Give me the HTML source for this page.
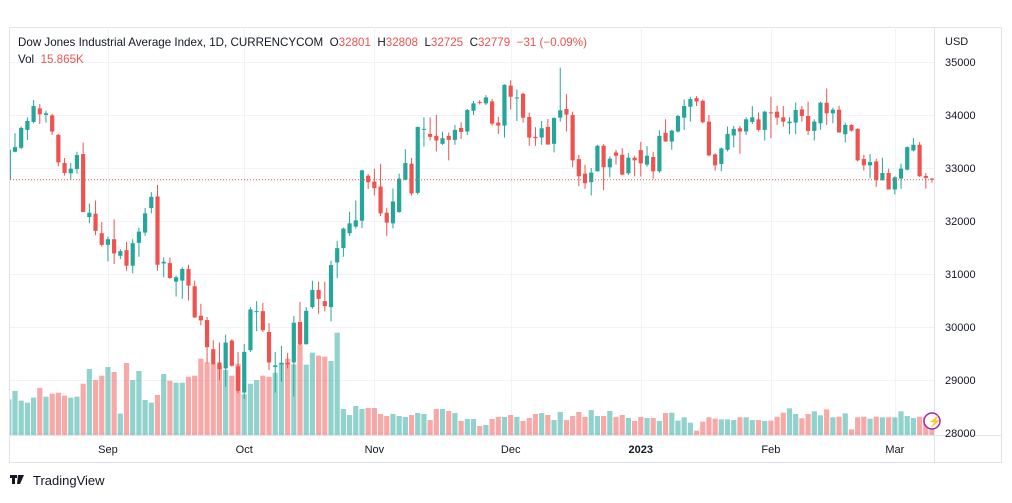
<!DOCTYPE html>
<html><head><meta charset="utf-8"><style>
body{margin:0;background:#fff;font-family:"Liberation Sans",sans-serif;}
svg text{font-family:"Liberation Sans",sans-serif;}
</style></head><body>
<svg id="chart" width="1012" height="498" viewBox="0 0 1012 498">
<defs><clipPath id="plotclip"><rect x="10" y="27" width="924" height="408"/></clipPath></defs>
<rect x="9.5" y="27.5" width="992" height="435" fill="#fff" stroke="#e0e3eb"/>
<g id="grid"></g>
<g id="vols" clip-path="url(#plotclip)"></g>
<g id="candles" clip-path="url(#plotclip)"></g>
<line x1="934.5" y1="27" x2="934.5" y2="462" stroke="#e0e3eb"/>
<line x1="10" y1="435.5" x2="1002" y2="435.5" stroke="#e0e3eb"/>
<g id="yticks" font-size="11" fill="#131722"></g>
<text x="945" y="45" font-size="11" fill="#131722">USD</text>
<g id="xticks" font-size="11" fill="#131722"></g>
<text x="18" y="46" font-size="11.6" fill="#131722" xml:space="preserve">Dow Jones Industrial Average Index, 1D, CURRENCYCOM  O<tspan fill="#ef5350">32801</tspan>  H<tspan fill="#ef5350">32808</tspan>  L<tspan fill="#ef5350">32725</tspan>  C<tspan fill="#ef5350">32779</tspan>  <tspan fill="#ef5350">−31 (−0.09%)</tspan></text>
<text x="18" y="63" font-size="11.6" fill="#131722" xml:space="preserve">Vol  <tspan fill="#ef5350">15.865K</tspan></text>
<g><circle cx="932" cy="421" r="8" fill="#fff" stroke="#9c27b0" stroke-width="1.5"/><text x="928" y="425" font-size="11" fill="#9c27b0">⚡</text></g>
<g><rect x="10" y="475" width="7" height="3" fill="#131722"/><rect x="12" y="475" width="3" height="9" fill="#131722"/><polygon points="18,475 24,475 20,484 17,484" fill="#131722"/><text x="33" y="485" font-size="13" fill="#131722">TradingView</text></g>
</svg>
<script>
const opens=[32781,33306,33381,33719,33869,34125,34000,33994,33625,33094,32900,32981,33263,32075,32138,31769,31550,31656,31344,31450,31156,31588,31781,32244,32463,31200,31206,30856,30875,31094,30769,30213,30131,29581,29331,29219,29744,29256,28763,29563,30288,30300,29906,29244,29294,29325,29331,30094,29675,30375,30700,30488,30375,31219,31488,31769,31894,32006,32856,32744,32650,32156,31956,32169,32781,33081,32531,33725,33644,33606,33456,33606,33531,33756,33688,34081,34244,34219,34256,33856,33800,34556,34319,34400,33963,33588,33575,33775,33456,33950,34113,34000,33169,32894,32731,32938,33419,33013,33294,33250,32900,33194,33338,33063,33206,32938,33663,33500,33688,33950,34156,34319,34269,33875,33256,33075,33344,33613,33750,33688,33869,33919,33719,34050,34063,33956,33844,33856,34106,33981,33700,33844,34231,34031,34100,33638,33813,33738,33169,33050,33125,32769,32906,32594,32800,32969,33331,33438,32850,32801];
const highs=[33344,33656,33781,33956,34281,34206,34081,34019,33644,33188,33094,33306,33481,32331,32388,31981,31706,32031,31469,31606,31656,31875,32244,32544,32681,31313,31313,30969,31125,31175,30875,30438,30188,29750,29706,29856,29769,29531,29681,30375,30488,30456,30075,29531,29644,29513,30206,30469,30375,30875,30856,30856,31250,31625,31875,32175,32388,32969,32888,32988,33081,32250,32613,32894,33356,33188,33781,33956,33956,34000,33688,33669,33813,33863,34113,34263,34281,34375,34300,33969,34581,34656,34481,34419,34044,33769,33888,33925,33956,34894,34394,34063,33250,33063,33000,33438,33450,33219,33344,33375,33281,33231,33494,33413,33306,33713,33919,33719,34000,34294,34344,34356,34294,34000,33281,33388,33781,33794,33794,33956,34169,34050,34081,34344,34175,34169,33956,34238,34169,34250,33919,34250,34500,34138,34175,33856,33825,33750,33250,33263,33175,33194,32988,32844,33081,33406,33563,33488,32906,32808];
const lows=[32781,33294,33356,33531,33844,33831,33856,33625,33031,32856,32781,32894,32169,31956,31731,31519,31238,31188,31281,31063,31013,31325,31719,32144,31063,30938,30906,30575,30531,30500,30169,30031,29313,29281,29000,28875,29250,28750,28644,29531,29919,29906,29188,28763,28969,29219,28688,29656,29669,30344,30250,30294,30106,30919,31325,31719,31856,31863,32606,32481,32094,31719,31863,32156,32769,32481,32500,33406,33519,33313,33438,33144,33438,33550,33625,34000,34200,34188,33800,33644,33575,34106,33888,33856,33419,33419,33438,33438,33294,33875,33688,33013,32656,32606,32481,32931,32581,32825,33063,32863,32869,32844,32838,33025,32800,32906,33494,33344,33669,33719,33875,34169,33844,33219,32950,32938,33313,33388,33269,33625,33831,33688,33519,33563,33813,33781,33638,33638,33875,33625,33519,33719,33813,33844,33669,33481,33688,33125,32950,32806,32644,32763,32594,32500,32606,32956,33313,32831,32613,32725];
const closes=[33344,33394,33756,33888,34169,34013,34031,33688,33106,32906,32988,33244,32169,32156,31813,31550,31656,31388,31431,31156,31581,31800,32144,32456,31175,31231,30925,30938,31094,30781,30181,30125,29619,29300,29206,29706,29269,28794,29531,30331,30300,29938,29331,29275,29325,29294,30081,29669,30306,30700,30531,30394,31169,31488,31856,31956,32013,32956,32731,32619,32144,31969,32369,32800,33094,32519,33775,33738,33588,33519,33563,33531,33719,33681,34094,34219,34231,34331,33838,33800,34569,34344,34331,33950,33575,33563,33750,33444,33944,34088,34006,33144,32844,32713,32913,33419,33013,33175,33231,32875,33194,33144,33088,33231,32938,33606,33500,33706,33981,34169,34300,34256,33863,33238,33050,33369,33644,33738,33688,33919,33956,33719,34063,34031,33950,33875,33875,34094,33981,33700,33875,34231,34031,34100,33669,33813,33706,33144,33050,33113,32769,32906,32594,32825,32988,33394,33438,32844,32813,32779];
const volumes=[31.0,38.3,29.9,28.1,32.5,40.9,33.3,35.9,36.8,34.2,32.5,33.3,44.6,57.4,47.8,51.6,59.1,54.8,18.6,62.6,47.8,55.7,30.4,28.1,34.8,53.0,47.2,45.5,45.5,50.7,51.6,66.4,63.2,61.7,60.6,56.5,51.6,62.0,35.4,44.6,47.8,51.6,50.7,54.2,62.3,66.4,61.4,78.3,61.2,71.6,69.0,68.1,64.3,89.0,22.6,17.4,25.2,22.6,23.5,23.5,18.3,16.5,18.3,16.5,15.7,17.4,19.1,18.3,13.0,22.6,22.6,20.9,19.1,12.2,13.9,13.9,7.8,8.7,13.9,15.7,15.7,17.4,15.7,12.2,14.8,18.3,19.1,17.4,13.0,20.0,13.0,16.5,20.0,15.7,21.7,16.5,16.5,20.9,15.7,17.4,14.8,12.2,15.7,14.8,14.8,12.2,19.1,19.4,12.5,15.4,10.7,3.8,11.6,15.4,14.2,13.6,13.6,13.0,15.4,15.4,13.0,13.0,12.2,12.5,15.9,19.4,23.2,18.3,14.5,18.3,20.6,17.1,22.3,15.4,15.9,18.8,4.9,15.4,15.9,14.2,15.9,15.4,15.4,15.4,20.6,16.5,14.8,15.9,15.9,15.865];
const priceTicks=[35000,34000,33000,32000,31000,30000,29000,28000];
const monthLabels=["Sep","Oct","Nov","Dec","2023","Feb","Mar"];
const monthIndex=[16,38,59,81,102,123,143];
const lastPrice=32779;

const NS="http://www.w3.org/2000/svg";
function yP(v){return 62+(35000-v)*0.053;}
function xI(i){return 8.8+i*6.196;}
function yV(v){return 435-v*1.15;}
function mk(tag,attrs,parent){const e=document.createElementNS(NS,tag);for(const k in attrs)e.setAttribute(k,attrs[k]);parent.appendChild(e);return e;}
const grid=document.getElementById('grid');
const yt=document.getElementById('yticks');
priceTicks.forEach(v=>{
  const y=Math.round(yP(v))+0.5;
  const l=mk('line',{x1:10,x2:934,y1:y,y2:y,stroke:'#f0f3fa'},grid);
  
  
  const t=mk('text',{x:945,y:yP(v)+4},yt);
  t.textContent=v;
  
  
});
const xt=document.getElementById('xticks');
monthLabels.forEach((m,k)=>{
  const x=xI(monthIndex[k]);
  const l=mk('line',{x1:Math.round(x)+0.5,x2:Math.round(x)+0.5,y1:27,y2:435,stroke:'#f0f3fa'},grid);
  
  
  const t=mk('text',{x:x,y:453,'text-anchor':'middle'},xt);
  if(m==='2023')t.setAttribute('font-weight','bold');
  t.textContent=m;
  
  
});
const vg=document.getElementById('vols'),cg=document.getElementById('candles');
opens.forEach((o,i)=>{
  const c=closes[i],up=c>=o,x=xI(i);
  const vb=mk('rect',{x:x-2.6,y:yV(volumes[i]),width:5.2,height:435-yV(volumes[i]),fill:up?'rgba(38,166,154,0.5)':'rgba(239,83,80,0.5)'},vg);
  
  
  const col=up?'#26a69a':'#ef5350';
  const w=mk('line',{x1:x,x2:x,y1:yP(highs[i]),y2:yP(lows[i]),stroke:col,'stroke-width':1},cg);
  
  
  const top=yP(Math.max(o,c)),bot=yP(Math.min(o,c));
  const b=mk('rect',{x:x-2.1,y:top,width:4.2,height:Math.max(1,bot-top),fill:col},cg);
  
  
});
const ly=yP(lastPrice);
const pl=mk('line',{x1:10,x2:934,y1:ly,y2:ly,stroke:'#ef5350','stroke-width':1,'stroke-dasharray':'1 2'},cg);


</script>
</body></html>
